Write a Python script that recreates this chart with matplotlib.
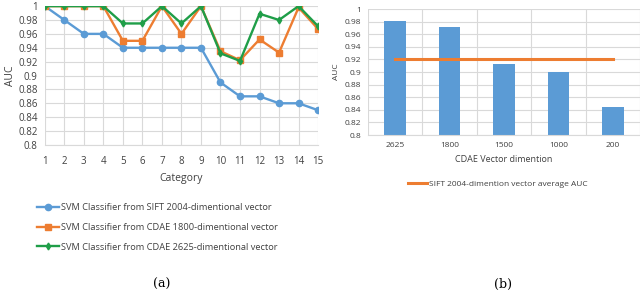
import matplotlib.pyplot as plt
import numpy as np

# left panel (a)
categories = list(range(1, 16))
sift_2004 = [1.0, 0.98, 0.96, 0.96, 0.94, 0.94, 0.94, 0.94, 0.94, 0.89, 0.87, 0.87, 0.86, 0.86, 0.85]
cdae_1800 = [1.0, 1.0, 1.0, 1.0, 0.95, 0.95, 1.0, 0.96, 1.0, 0.935, 0.922, 0.952, 0.933, 0.998, 0.967]
cdae_2625 = [1.0, 1.0, 1.0, 1.0, 0.975, 0.975, 1.0, 0.975, 1.0, 0.932, 0.921, 0.989, 0.98, 1.0, 0.971]

# right panel (b)
dims = ["2625", "1800", "1500", "1000", "200"]
dim_auc = [0.981, 0.971, 0.912, 0.900, 0.844]
sift_avg = 0.92

blue = "#5B9BD5"
orange = "#ED7D31"
green = "#1F9E48"
grid_col = "#D9D9D9"
txt_col = "#404040"
font = "Open Sans"

fig = plt.figure(figsize=(6.4, 2.91), dpi=100)

# ---- (a) ----
ax = fig.add_axes([0.070, 0.502, 0.427, 0.477])
ax.plot(categories, sift_2004, color=blue, marker="o", markersize=4.5, lw=1.7,
        label="SVM Classifier from SIFT 2004-dimentional vector")
ax.plot(categories, cdae_1800, color=orange, marker="s", markersize=4.5, lw=1.7,
        label="SVM Classifier from CDAE 1800-dimentional vector")
ax.plot(categories, cdae_2625, color=green, marker="d", markersize=3.5, lw=1.7,
        label="SVM Classifier from CDAE 2625-dimentional vector")
ax.set_xlim(1, 15)
ax.set_ylim(0.8, 1.0)
ax.set_xticks(categories)
ax.set_yticks(np.arange(0.8, 1.001, 0.02))
ax.set_yticklabels([f"{v:g}" for v in np.round(np.arange(0.8, 1.001, 0.02), 2)])
ax.grid(color=grid_col, lw=0.8)
ax.set_axisbelow(True)
for s in ["top", "right", "left"]:
    ax.spines[s].set_visible(False)
ax.spines["bottom"].set_color(grid_col)
ax.tick_params(axis="y", length=0, labelsize=7, colors=txt_col, pad=5)
ax.tick_params(axis="x", length=0, labelsize=7, colors=txt_col, pad=8)
for lab in ax.get_xticklabels() + ax.get_yticklabels():
    lab.set_family(font)
ax.set_xlabel("Category", fontsize=7.5, color=txt_col, family=font, labelpad=4)
ax.set_ylabel("AUC", fontsize=7.5, color=txt_col, family=font, labelpad=2)
ax.legend(loc="upper left", bbox_to_anchor=(-0.061, -0.36), frameon=False,
          prop={"family": font, "size": 6.7}, labelcolor=txt_col, handlelength=2.4,
          labelspacing=1.15, handletextpad=0.2)

# ---- (b) ----
bx = fig.add_axes([0.575, 0.536, 0.425, 0.433])
xpos = np.arange(len(dims))
bx.bar(xpos, np.array(dim_auc) - 0.8, bottom=0.8, width=0.4, color=blue)
bx.plot(xpos, [sift_avg] * len(dims), color=orange, lw=2.2,
        label="SIFT 2004-dimention vector average AUC")
bx.set_xlim(-0.5, len(dims) - 0.5)
bx.set_ylim(0.8, 1.0)
bx.set_xticks(xpos)
bx.set_xticklabels(dims)
bx.set_xticks(np.arange(-0.5, len(dims)), minor=True)
bx.set_yticks(np.arange(0.8, 1.001, 0.02))
bx.set_yticklabels([f"{v:g}" for v in np.round(np.arange(0.8, 1.001, 0.02), 2)])
bx.grid(axis="y", color=grid_col, lw=0.8)
bx.grid(axis="x", which="minor", color=grid_col, lw=0.8)
bx.set_axisbelow(True)
for s in ["top", "right", "left"]:
    bx.spines[s].set_visible(False)
bx.spines["bottom"].set_color(grid_col)
bx.tick_params(which="both", length=0, labelsize=6, colors=txt_col, pad=5)
for lab in bx.get_xticklabels() + bx.get_yticklabels():
    lab.set_family(font)
bx.set_xlabel("CDAE Vector dimention", fontsize=6.5, color=txt_col, family=font, labelpad=4)
bx.set_ylabel("AUC", fontsize=6, color=txt_col, family=font, labelpad=3)
bx.legend(loc="upper left", bbox_to_anchor=(0.121, -0.30), frameon=False,
          prop={"family": font, "size": 6}, labelcolor=txt_col, handlelength=2.2,
          handletextpad=0.3)

fig.text(0.253, 0.012, "(a)", fontsize=9, family="DejaVu Serif", ha="center")
fig.text(0.786, 0.012, "(b)", fontsize=9, family="DejaVu Serif", ha="center")

fig.savefig("out.png", dpi=100)
